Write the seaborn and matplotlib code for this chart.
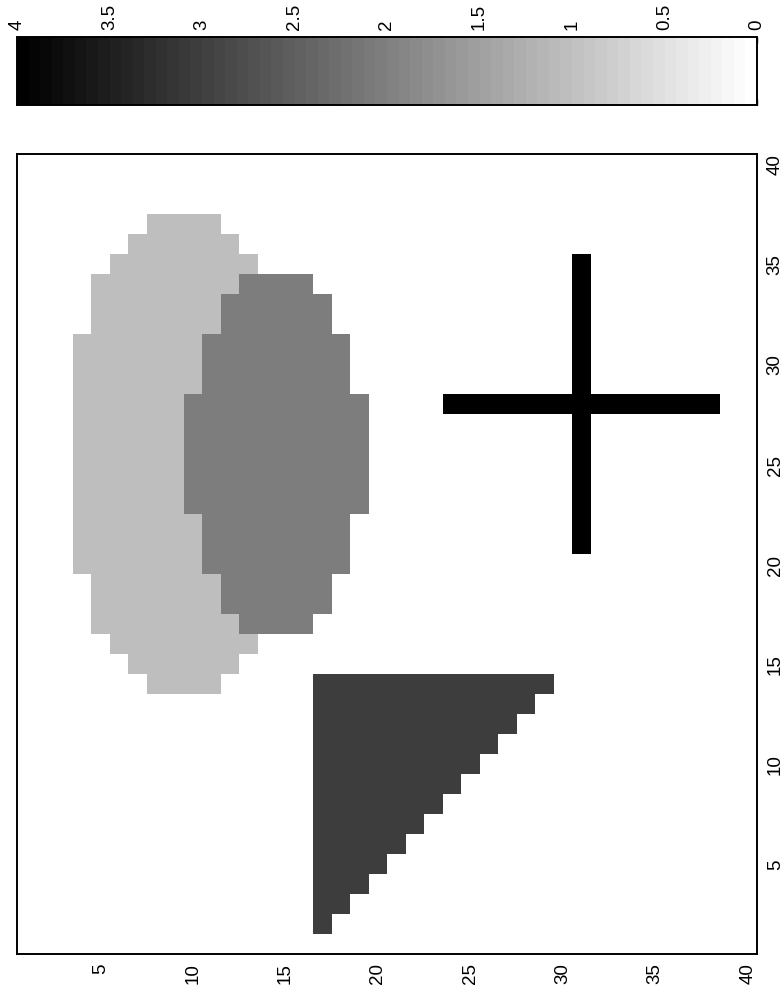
import numpy as np
import matplotlib
matplotlib.use("Agg")
import matplotlib.pyplot as plt
import seaborn as sns

# ---------------- data ----------------
grid_size = 40
axis_ticks = [5, 10, 15, 20, 25, 30, 35, 40]
cbar_ticks = [0, 0.5, 1, 1.5, 2, 2.5, 3, 3.5, 4]
cbar_labels = ["0", "0.5", "1", "1.5", "2", "2.5", "3", "3.5", "4"]

# light ellipse (value 1): row value on right axis, first/last column on bottom axis
ellipse1_value = 1
ellipse1_rows = [37, 36, 35, 34, 33, 32, 31, 30, 29, 28, 27, 26, 25, 24, 23, 22, 21, 20, 19, 18, 17, 16, 15, 14]
ellipse1_first = [8, 7, 6, 5, 5, 5, 4, 4, 4, 4, 4, 4, 4, 4, 4, 4, 4, 4, 5, 5, 5, 6, 7, 8]
ellipse1_last = [11, 12, 13, 14, 14, 14, 15, 15, 15, 15, 15, 15, 15, 15, 15, 15, 15, 15, 14, 14, 14, 13, 12, 11]

# darker ellipse (value 2), drawn over the first one
ellipse2_value = 2
ellipse2_rows = [34, 33, 32, 31, 30, 29, 28, 27, 26, 25, 24, 23, 22, 21, 20, 19, 18, 17]
ellipse2_first = [13, 12, 12, 11, 11, 11, 10, 10, 10, 10, 10, 10, 11, 11, 11, 12, 12, 13]
ellipse2_last = [16, 17, 17, 18, 18, 18, 19, 19, 19, 19, 19, 19, 18, 18, 18, 17, 17, 16]

# triangle (value 3)
triangle_value = 3
triangle_rows = [14, 13, 12, 11, 10, 9, 8, 7, 6, 5, 4, 3, 2]
triangle_first = [17, 17, 17, 17, 17, 17, 17, 17, 17, 17, 17, 17, 17]
triangle_last = [29, 28, 27, 26, 25, 24, 23, 22, 21, 20, 19, 18, 17]

# cross (value 4)
cross_value = 4
cross_hbar_row = 28
cross_hbar_cols = (24, 38)
cross_vbar_col = 31
cross_vbar_rows = (21, 35)

# ---------------- build matrix ----------------
M = np.zeros((grid_size, grid_size))


def put(v, c0, c1, val):
    i = grid_size - v          # top row is value 40
    M[i, c0 - 1:c1] = val


for v, a, b in zip(ellipse1_rows, ellipse1_first, ellipse1_last):
    put(v, a, b, ellipse1_value)
for v, a, b in zip(ellipse2_rows, ellipse2_first, ellipse2_last):
    put(v, a, b, ellipse2_value)
for v, a, b in zip(triangle_rows, triangle_first, triangle_last):
    put(v, a, b, triangle_value)
put(cross_hbar_row, cross_hbar_cols[0], cross_hbar_cols[1], cross_value)
for v in range(cross_vbar_rows[0], cross_vbar_rows[1] + 1):
    put(v, cross_vbar_col, cross_vbar_col, cross_value)

# ---------------- plot ----------------
sns.set_theme(style="white")
plt.rcParams["font.family"] = ["Liberation Sans", "DejaVu Sans"]
plt.rcParams["font.size"] = 13.5

W, H = 784, 1004
fig = plt.figure(figsize=(W / 100, H / 100), dpi=100)
ax = fig.add_axes([17 / W, (H - 955) / H, 740 / W, 800 / H])
cax = fig.add_axes([17 / W, (H - 106) / H, 740 / W, 68 / H])

cmap = matplotlib.colormaps["gray_r"].resampled(64)
sns.heatmap(M, cmap=cmap, vmin=0, vmax=4, ax=ax, cbar_ax=cax,
            cbar_kws={"orientation": "horizontal"},
            xticklabels=False, yticklabels=False)

# main axes ticks
ax.set_xticks([t - 0.5 for t in axis_ticks])
ax.set_xticklabels([str(t) for t in axis_ticks])
ax.set_yticks([grid_size - t + 0.5 for t in axis_ticks])
ax.set_yticklabels([str(t) for t in axis_ticks])
ax.tick_params(axis="x", bottom=True, top=True, labelbottom=True, labeltop=False,
               direction="in", length=6, width=1, color="black", pad=6,
               labelsize=13.5, labelcolor="black", labelrotation=90)
ax.tick_params(axis="y", left=True, right=True, labelleft=False, labelright=True,
               direction="in", length=6, width=1, color="black", pad=7,
               labelsize=13.5, labelcolor="black", labelrotation=90)
for lab in ax.get_yticklabels():
    lab.set_verticalalignment("center")
for s in ax.spines.values():
    s.set_visible(True)
    s.set_color("black")
    s.set_linewidth(1.4)

# colorbar
cbar = ax.collections[0].colorbar
cbar.set_ticks(cbar_ticks, labels=cbar_labels)
cax.invert_xaxis()
cax.xaxis.set_ticks_position("both")
cax.tick_params(axis="x", top=True, bottom=True, labeltop=True, labelbottom=False,
                direction="in", length=4, width=1, color="black", pad=6,
                labelsize=13.5, labelcolor="black", labelrotation=90)
cbar.outline.set_visible(True)
cbar.outline.set_linewidth(1.4)
cbar.outline.set_edgecolor("black")

fig.savefig("out.png", dpi=100, facecolor="white")
